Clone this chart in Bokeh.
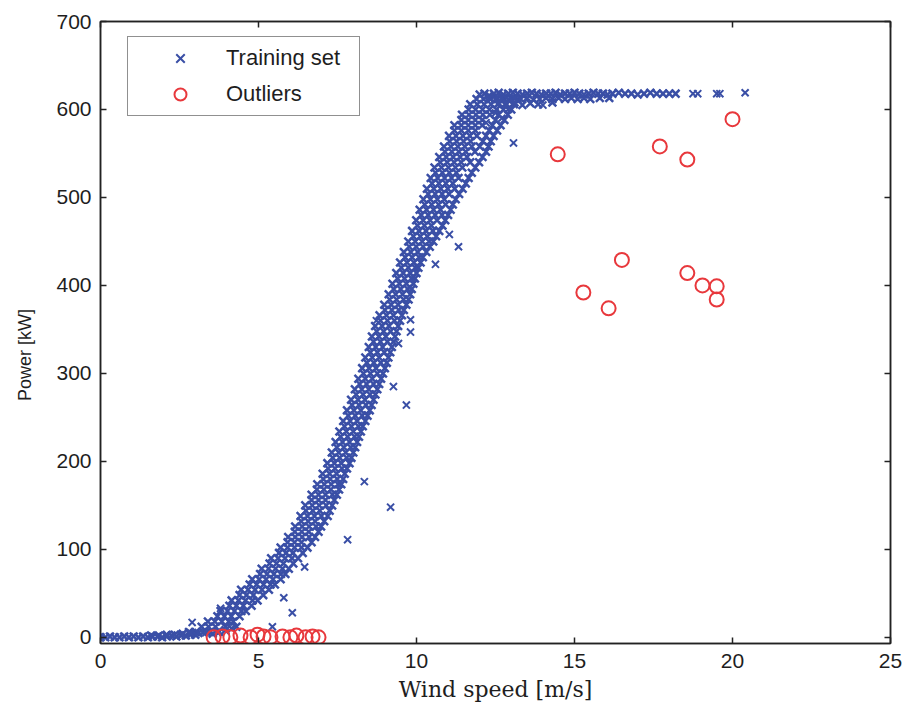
from bokeh.plotting import figure
from bokeh.models import LinearAxis, Legend, LegendItem, Range1d, FixedTicker
from bokeh.embed import file_html
from bokeh.resources import INLINE

X_TICKS = [0, 5, 10, 15, 20, 25]
Y_TICKS = [0, 100, 200, 300, 400, 500, 600, 700]
X_LABEL = "Wind speed [m/s]"
Y_LABEL = "Power [kW]"

# Training set: the dense band, rows of (power, wind speeds across the band)
BAND_ROWS = [
    (6, 2.8, 3.02, 3.24, 3.46, 3.7), (12, 3.2, 3.42, 3.64, 3.95), (18, 3.4, 3.62, 3.84, 4.06, 4.2),
    (24, 3.7, 3.92, 4.14, 4.4), (30, 3.8, 4.02, 4.24, 4.46, 4.6), (36, 4.08, 4.3, 4.52, 4.78),
    (42, 4.15, 4.37, 4.59, 4.81, 4.97), (48, 4.4, 4.62, 4.84, 5.15), (54, 4.45, 4.67, 4.89, 5.11, 5.33),
    (60, 4.72, 4.94, 5.16, 5.38, 5.52), (66, 4.8, 5.02, 5.24, 5.46, 5.7), (72, 5.05, 5.27, 5.49, 5.71, 5.85),
    (78, 5.1, 5.32, 5.54, 5.76, 5.96), (84, 5.35, 5.57, 5.79, 6.1), (90, 5.4, 5.62, 5.84, 6.06, 6.25),
    (96, 5.65, 5.87, 6.09, 6.4), (102, 5.7, 5.92, 6.14, 6.36, 6.55), (108, 5.92, 6.14, 6.36, 6.68),
    (114, 5.94, 6.16, 6.38, 6.6, 6.79), (120, 6.15, 6.37, 6.59, 6.9), (126, 6.16, 6.38, 6.6, 6.82, 6.98),
    (132, 6.35, 6.57, 6.79, 7.08), (138, 6.33, 6.55, 6.77, 6.99, 7.19), (144, 6.5, 6.72, 6.94, 7.25),
    (150, 6.48, 6.7, 6.92, 7.14, 7.33), (156, 6.68, 6.9, 7.12, 7.4), (162, 6.68, 6.9, 7.12, 7.34, 7.48),
    (168, 6.85, 7.07, 7.29, 7.55), (174, 6.86, 7.08, 7.3, 7.52, 7.62), (180, 7.05, 7.27, 7.49, 7.68),
    (186, 7.03, 7.25, 7.47, 7.73), (192, 7.2, 7.42, 7.64, 7.8), (198, 7.18, 7.4, 7.62, 7.88),
    (204, 7.35, 7.57, 7.79, 7.94), (210, 7.32, 7.54, 7.76, 8.0), (216, 7.48, 7.7, 7.92, 8.06),
    (222, 7.44, 7.66, 7.88, 8.12), (228, 7.6, 7.82, 8.04, 8.18), (234, 7.56, 7.78, 8.0, 8.24),
    (240, 7.72, 7.94, 8.16, 8.3), (246, 7.68, 7.9, 8.12, 8.38), (252, 7.84, 8.06, 8.28, 8.45),
    (258, 7.8, 8.02, 8.24, 8.52), (264, 7.96, 8.18, 8.4, 8.58), (270, 7.93, 8.15, 8.37, 8.64),
    (276, 8.09, 8.31, 8.53, 8.7), (282, 8.05, 8.27, 8.49, 8.76), (288, 8.2, 8.42, 8.64, 8.82),
    (294, 8.16, 8.38, 8.6, 8.88), (300, 8.32, 8.54, 8.76, 8.94), (306, 8.28, 8.5, 8.72, 9.0),
    (312, 8.43, 8.65, 8.87, 9.06), (318, 8.38, 8.6, 8.82, 9.11), (324, 8.54, 8.76, 8.98, 9.17),
    (330, 8.49, 8.71, 8.93, 9.22), (336, 8.64, 8.86, 9.08, 9.27), (342, 8.59, 8.81, 9.03, 9.32),
    (348, 8.74, 8.96, 9.18, 9.37), (354, 8.69, 8.91, 9.13, 9.42), (360, 8.86, 9.08, 9.3, 9.48),
    (366, 8.83, 9.05, 9.27, 9.54), (372, 9.0, 9.22, 9.44, 9.6), (378, 8.98, 9.2, 9.42, 9.68),
    (384, 9.15, 9.37, 9.59, 9.75), (390, 9.12, 9.34, 9.56, 9.8), (396, 9.28, 9.5, 9.72, 9.85),
    (402, 9.24, 9.46, 9.68, 9.9), (408, 9.4, 9.62, 9.84, 9.95), (414, 9.36, 9.58, 9.8, 10.0),
    (420, 9.52, 9.74, 9.96, 10.06), (426, 9.48, 9.7, 9.92, 10.13), (432, 9.64, 9.86, 10.08, 10.2),
    (438, 9.6, 9.82, 10.04, 10.31), (444, 9.77, 9.99, 10.21, 10.42), (450, 9.74, 9.96, 10.18, 10.4, 10.53),
    (456, 9.9, 10.12, 10.34, 10.62), (462, 9.86, 10.08, 10.3, 10.52, 10.72), (468, 10.03, 10.25, 10.47, 10.82),
    (474, 9.99, 10.21, 10.43, 10.65, 10.91), (480, 10.15, 10.37, 10.59, 10.81, 11.0),
    (486, 10.1, 10.32, 10.54, 10.76, 11.08), (492, 10.26, 10.48, 10.7, 10.92, 11.15),
    (498, 10.22, 10.44, 10.66, 10.88, 11.24), (504, 10.37, 10.59, 10.81, 11.03, 11.35),
    (510, 10.33, 10.55, 10.77, 10.99, 11.21, 11.46), (516, 10.49, 10.71, 10.93, 11.15, 11.56),
    (522, 10.45, 10.67, 10.89, 11.11, 11.33, 11.65), (528, 10.6, 10.82, 11.04, 11.26, 11.75),
    (534, 10.57, 10.79, 11.01, 11.23, 11.45, 11.86), (540, 10.75, 10.97, 11.19, 11.41, 11.7, 11.98),
    (546, 10.72, 10.94, 11.16, 11.38, 11.6, 12.09), (552, 10.9, 11.12, 11.34, 11.56, 11.85, 12.2),
    (558, 10.87, 11.09, 11.31, 11.53, 11.75, 12.0, 12.28), (564, 11.05, 11.27, 11.49, 11.71, 12.1, 12.35),
    (570, 11.03, 11.25, 11.47, 11.69, 11.91, 12.2, 12.44), (576, 11.2, 11.42, 11.64, 11.86, 12.3, 12.55),
    (582, 11.2, 11.42, 11.64, 11.86, 12.08, 12.4, 12.66), (588, 11.42, 11.64, 11.86, 12.08, 12.5, 12.78),
    (594, 11.44, 11.66, 11.88, 12.1, 12.32, 12.6, 12.89),
    (600, 11.65, 11.87, 12.09, 12.31, 12.53, 12.75, 13.0),
    (606, 11.7, 11.92, 12.14, 12.36, 12.58, 12.8, 13.08),
    (612, 11.9, 12.12, 12.34, 12.56, 12.78, 13.0, 13.2),
]

# Training set: low-wind points near zero power
LOW_X = [0.0, 0.15, 0.3, 0.45, 0.6, 0.75, 0.9, 1.05, 1.2, 1.35, 1.5, 1.65, 1.8, 1.95, 2.1,
         2.25, 2.4, 2.55, 2.7, 2.85, 3.0,
         1.6, 1.85, 2.1, 2.35, 2.6, 2.85, 3.1, 3.35, 3.55, 3.75, 3.95, 4.15, 4.3]
LOW_Y = [0, 0, 1, 0, 0, 1, 0, 1, 0, 1, 0, 1, 1, 0, 1,
         2, 1, 2, 2, 3, 3,
         2, 2, 3, 3, 4, 5, 5, 6, 4, 6, 8, 10, 12]

# Training set: rated-power plateau
FLAT_X = [12.0, 12.15, 12.3, 12.45, 12.6, 12.75, 12.9, 13.05, 13.2, 13.35, 13.5, 13.65, 13.8,
          13.95, 14.1, 14.25, 14.4, 14.55, 14.7, 14.85, 15.0, 15.15, 15.3, 15.45, 15.6, 15.75,
          15.9, 16.05, 16.2, 16.4, 16.6, 16.8, 17.0, 17.2, 17.4, 17.6, 17.8, 18.0, 18.2,
          12.3, 12.5, 12.7, 12.9, 13.1, 13.3, 13.5, 13.7, 13.9, 14.1, 14.3, 14.5, 14.7,
          14.9, 15.1, 15.3, 15.5, 15.8, 16.1,
          12.6, 12.85, 13.1, 13.35, 13.6, 13.85, 14.3]
FLAT_Y = [617, 618, 616, 618, 619, 617, 618, 619, 618, 617, 618, 619, 618,
          617, 618, 618, 619, 617, 618, 618, 619, 618, 617, 618, 619, 618,
          618, 617, 618, 619, 618, 618, 617, 618, 619, 618, 618, 618, 618,
          613, 612, 613, 611, 613, 612, 613, 611, 612, 613, 612, 613, 612,
          613, 612, 613, 612, 613, 613,
          607, 606, 608, 605, 607, 606, 608]

# Training set: scattered single points off the band
SCAT_X = [13.07, 11.33, 11.04, 10.6, 9.81, 9.81, 8.73, 9.43, 9.27, 9.68, 8.35, 9.18, 7.82,
          6.46, 6.07, 5.8, 5.44, 2.9, 3.8, 14.0, 12.2, 12.5, 12.9, 12.7,
          18.75, 18.9, 19.5, 19.6, 20.4]
SCAT_Y = [562, 444, 458, 424, 361, 347, 360, 334, 285, 264, 177, 148, 111,
          80, 28, 45, 12, 17, 33, 605, 585, 596, 600, 590,
          618, 618, 618, 618, 619]

# Outliers (red circles)
OUT_X = [14.47, 17.7, 18.57, 20.0, 16.5, 15.28, 16.08, 18.57, 19.05, 19.5, 19.5,
         3.58, 3.86, 4.11, 4.43, 4.75, 4.97, 5.16, 5.38, 5.76, 6.01, 6.2, 6.49, 6.71, 6.9]
OUT_Y = [549, 558, 543, 589, 429, 392, 374, 414, 400, 399, 384,
         0, 1, 0, 2, 0, 3, 1, 0, 1, 0, 2, 0, 1, 0]

dense_x, dense_y = [], []
for row in BAND_ROWS:
    for xv in row[1:]:
        dense_x.append(xv)
        dense_y.append(row[0])
dense_x += LOW_X + FLAT_X
dense_y += LOW_Y + FLAT_Y

BLUE = "#3a4fa6"
RED = "#e8383c"
INK = "#1e1e1e"
SANS = "Liberation Sans"

p = figure(width=904, height=711, x_range=Range1d(0, 25), y_range=Range1d(-7, 700),
           output_backend="svg", toolbar_location=None,
           min_border_left=100, min_border_right=14, min_border_top=21, min_border_bottom=68)
p.background_fill_color = "white"
p.border_fill_color = "white"
p.outline_line_color = "#222222"
p.outline_line_width = 1.5
p.xgrid.visible = False
p.ygrid.visible = False

r_dense = p.scatter(dense_x, dense_y, marker="x", size=11, line_color=BLUE, line_width=2.5)
r_train = p.scatter(SCAT_X, SCAT_Y, marker="x", size=10, line_color=BLUE, line_width=2)
r_out = p.scatter(OUT_X, OUT_Y, marker="circle", size=14, line_color=RED, line_width=2,
                  fill_color=None)


def style_axis(ax, ticks, labels=True):
    ax.ticker = FixedTicker(ticks=ticks)
    ax.major_tick_in = 6
    ax.major_tick_out = 0
    ax.minor_tick_line_color = None
    ax.axis_line_color = "#222222"
    ax.axis_line_width = 1.5
    ax.major_tick_line_color = "#222222"
    ax.major_tick_line_width = 1.5
    if labels:
        ax.major_label_text_font = SANS
        ax.major_label_text_font_size = "21px"
        ax.major_label_text_color = INK
    else:
        ax.major_label_text_font_size = "0px"
        ax.major_label_standoff = 0


style_axis(p.xaxis[0], X_TICKS)
style_axis(p.yaxis[0], Y_TICKS)
p.xaxis[0].major_label_standoff = 10
p.yaxis[0].major_label_standoff = 9
p.xaxis[0].axis_label = X_LABEL
p.xaxis[0].axis_label_text_font = "DejaVu Serif"
p.xaxis[0].axis_label_text_font_size = "22px"
p.xaxis[0].axis_label_text_font_style = "normal"
p.xaxis[0].axis_label_text_color = INK
p.xaxis[0].axis_label_standoff = 6
p.yaxis[0].axis_label = Y_LABEL + "\u00a0" * 9
p.yaxis[0].axis_label_text_font = SANS
p.yaxis[0].axis_label_text_font_size = "18px"
p.yaxis[0].axis_label_text_font_style = "normal"
p.yaxis[0].axis_label_text_color = INK
p.yaxis[0].axis_label_standoff = 18

top_ax = LinearAxis()
style_axis(top_ax, X_TICKS, labels=False)
p.add_layout(top_ax, "above")
right_ax = LinearAxis()
style_axis(right_ax, Y_TICKS, labels=False)
p.add_layout(right_ax, "right")

legend = Legend(items=[LegendItem(label="Training set", renderers=[r_train]),
                       LegendItem(label="Outliers", renderers=[r_out])],
                location=(27, 527))
legend.label_text_font = SANS
legend.label_text_font_size = "22px"
legend.label_text_color = INK
legend.border_line_color = "#222222"
legend.border_line_width = 1.5
legend.background_fill_color = "white"
legend.background_fill_alpha = 1.0
legend.padding = 6
legend.spacing = 6
legend.glyph_width = 92
legend.glyph_height = 30
legend.label_height = 30
legend.label_width = 127
legend.label_standoff = 0
legend.margin = 0
p.add_layout(legend, "center")

open("out.html", "w").write(file_html(p, INLINE))
